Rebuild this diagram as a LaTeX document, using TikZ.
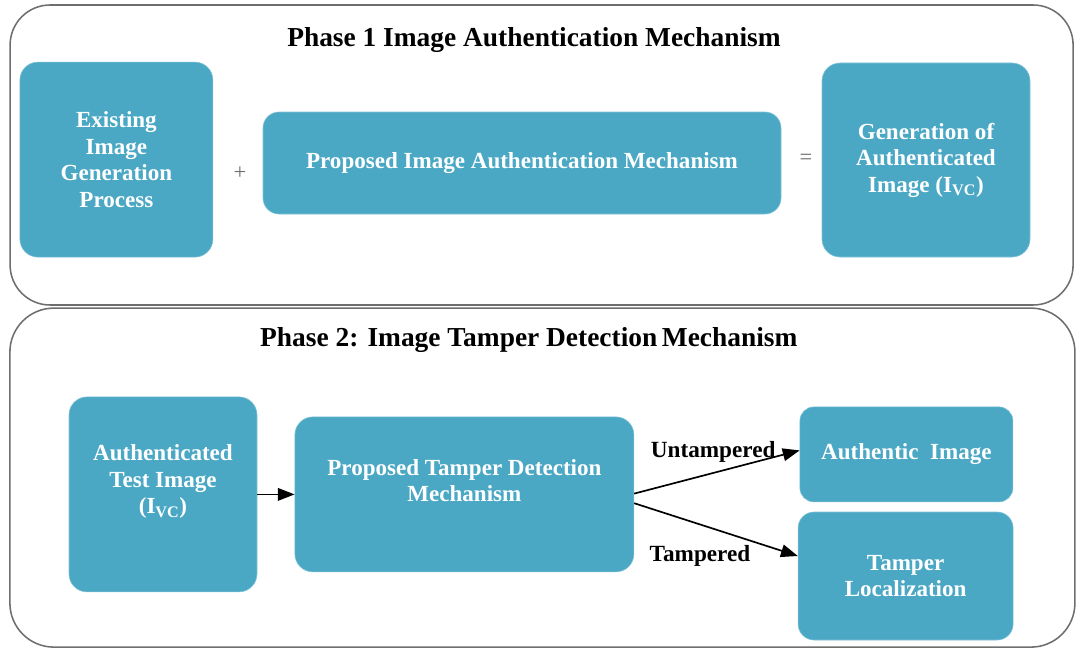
\documentclass[tikz,border=0pt]{standalone}
\usepackage{fontspec}
\setmainfont{Liberation Serif}
\usepackage{tikz}
\usetikzlibrary{positioning, arrows.meta, calc}
\definecolor{PhTeal}{RGB}{74,168,197}
\definecolor{PhGray}{RGB}{110,110,110}

\begin{document}
\begin{tikzpicture}[
      phasebox/.style={rectangle, rounded corners=1cm, draw=PhGray, line width=1.1pt},
      blk/.style={rectangle, rounded corners=0.45cm, fill=PhTeal, draw=PhTeal!70!white,
                  text=white, align=center, inner sep=2pt,
                  font=\fontsize{16.4}{18.8}\selectfont\bfseries},
      ttl/.style={font=\fontsize{19.5}{22}\selectfont\bfseries},
      op/.style={font=\fontsize{16}{18}\selectfont, PhGray},
      lbl/.style={font=\fontsize{16.5}{18}\selectfont\bfseries},
      arr/.style={-{Triangle[length=12pt, width=9pt]}, line width=1.2pt, black}
    ]
    \useasboundingbox (0,0) rectangle (27.025,-16.225);

    % Phase containers
    \node[phasebox, minimum width=26.575cm, minimum height=7.5cm]
          (ph1) at (13.54,-3.875) {};
    \node[phasebox, minimum width=26.625cm, minimum height=8.475cm,
          rounded corners=1.1cm]
          (ph2) at (13.56,-11.94) {};

    % Phase 1
    \node[ttl] (ttl1) at (13.35,-1.0) {Phase 1 Image Authentication Mechanism};
    \node[blk, minimum width=4.825cm, minimum height=4.875cm]
          (exist) at (2.91,-3.99) {Existing\\Image\\Generation\\Process};
    \node[op] (plus) at (6.0,-4.325) {+};
    \node[blk, minimum width=12.95cm, minimum height=2.55cm, rounded corners=0.4cm]
          (propauth) at (13.05,-4.075) {Proposed Image Authentication Mechanism};
    \node[op] (eq) at (20.15,-3.975) {=};
    \node[blk, minimum width=5.2cm, minimum height=4.85cm]
          (genauth) at (23.15,-4.0)
          {Generation of\\Authenticated\\Image (I\textsubscript{VC})};

    % Phase 2
    \node[ttl] (ttl2) at (13.22,-8.5) {Phase 2: Image Tamper Detection\,Mechanism};
    \node[blk, minimum width=4.7cm, minimum height=4.875cm, text depth=0.75cm]
          (testimg) at (4.075,-12.36)
          {Authenticated\\Test Image\\(I\textsubscript{VC})};
    \node[blk, minimum width=8.475cm, minimum height=3.875cm, text depth=0.7cm]
          (proptamp) at (11.61,-12.36) {Proposed Tamper Detection\\Mechanism};
    \node[blk, minimum width=5.325cm, minimum height=2.375cm, rounded corners=0.35cm]
          (authimg) at (22.66,-11.36) {Authentic\ \ Image};
    \node[blk, minimum width=5.375cm, minimum height=3.2cm, rounded corners=0.4cm]
          (tamploc) at (22.64,-14.4) {Tamper\\Localization};

    \draw[arr] (testimg) -- (proptamp);
    \draw[arr] ([yshift=0.02cm]proptamp.east) -- ([yshift=0.1cm]authimg.west);
    \draw[arr] ([yshift=-0.22cm]proptamp.east) -- ([yshift=0.5cm]tamploc.west);
    \node[lbl] (lblU) at (17.83,-11.3) {Untampered};
    \node[lbl] (lblT) at (17.5,-13.9) {Tampered};
  \end{tikzpicture}
\end{document}
